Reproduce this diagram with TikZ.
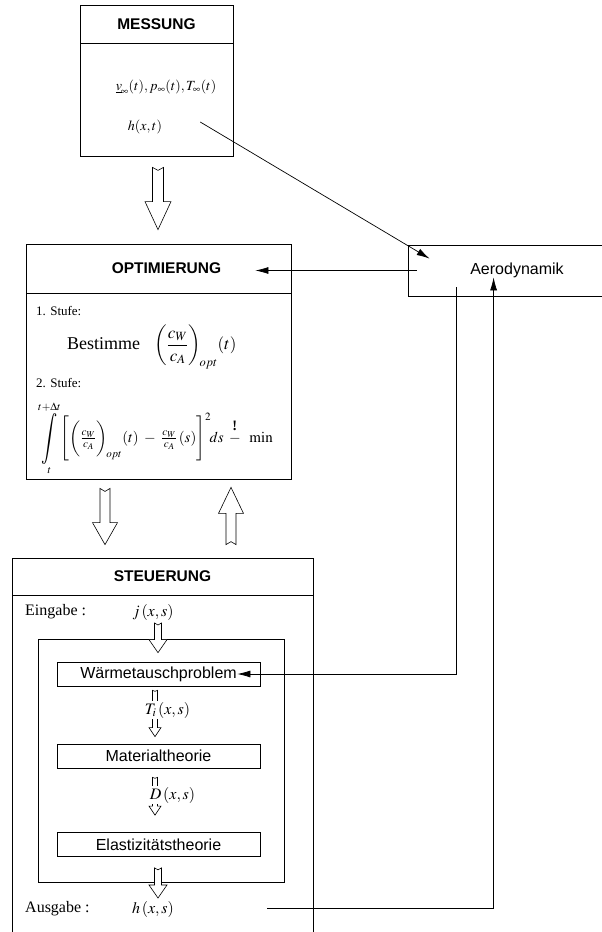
\documentclass[tikz,border=0pt]{standalone}
\usepackage{amsmath}
\usepackage{graphicx}
\usepackage{mathptmx}
\usepackage{fontspec}
\setmainfont{Liberation Serif}
\setsansfont{Liberation Sans}
\usetikzlibrary{arrows.meta,calc}
\tikzset{>={Latex[width=7pt,length=13pt]}}
\newcommand\Bint{\mathop{\vcenter{\hbox{\scalebox{1.2}[1.7]{$\displaystyle\int$}}}}\limits}

\begin{document}
\begin{tikzpicture}[x=1pt,y=-1pt,
  box/.style={draw,line width=0.8pt,inner sep=0pt},
  ttl/.style={box,font=\fontsize{15.5}{18}\sffamily\bfseries},
  proc/.style={draw,line width=0.7pt,minimum width=203pt,minimum height=24pt,inner sep=0pt,font=\fontsize{16}{19}\sffamily},
  txt/.style={inner sep=2pt,font=\fontsize{16}{19}\selectfont},
  stufe/.style={inner sep=1pt,font=\fontsize{13}{15}\selectfont},
  fatarr/.style={draw,fill=white,line width=0.6pt,line join=miter},
  conn/.style={line width=0.7pt}]

  % hollow arrow: from, to, shaft half width, head half width, head length, notch
  \newcommand\fatarrow[6]{%
    \path[fatarr] let \p1=(#1), \p2=(#2), \n1={sign(\y1-\y2)} in
      (\x1-#3,\y1) -- (\x1,\y1-\n1*#6) -- (\x1+#3,\y1) -- (\x1+#3,\y2+\n1*#5)
      -- (\x1+#4,\y2+\n1*#5) -- (\x1,\y2) -- (\x1-#4,\y2+\n1*#5)
      -- (\x1-#3,\y2+\n1*#5) -- cycle;}

  \useasboundingbox (0,0) rectangle (602,932);
  \clip (0,0) rectangle (602,932);

  %% MESSUNG
  \node[box,minimum width=153pt,minimum height=151pt] (mess) at (156.5,80.5) {};
  \node[ttl,minimum width=153pt,minimum height=38pt,anchor=north] (messT) at (mess.north) {MESSUNG};
  \node[txt,font=\fontsize{14}{17}\selectfont] (vpt) at (166,87) {$\underline{v}_{\!\infty}(t),p_\infty(t),T_\infty(t)$};
  \node[txt,font=\fontsize{14}{17}\selectfont] (hxt) at (145,127) {$h(x,t)$};

  %% OPTIMIERUNG
  \node[box,minimum width=265pt,minimum height=235pt] (opt) at (158.5,361.5) {};
  \node[ttl,minimum width=265pt,minimum height=49pt,anchor=north] (optT) at (opt.north) {\hspace*{16pt}OPTIMIERUNG};
  \node[stufe,anchor=west] (st1) at (35,311) {1. Stufe:};
  \node[anchor=west,inner sep=0pt] (best) at (67,347)
    {{\fontsize{18}{21}\selectfont Bestimme}\hspace{14pt}{\fontsize{17}{20}\selectfont
     $\left(\dfrac{c_W}{c_A}\right)_{\!opt}\!(t)$}};
  \node[stufe,anchor=west] (st2) at (35,383) {2. Stufe:};
  \node[anchor=west,inner sep=0pt,font=\fontsize{15}{18}\selectfont] (integ) at (38,438)
    {$\Bint_{t}^{t+\Delta t}\Biggl[\left(\tfrac{c_W}{c_A}\vphantom{\dfrac{c_W}{c_A}}\right)_{\!opt}\!(t)\;-\;\tfrac{c_W}{c_A}\,(s)\Biggr]^2\!ds
     \;\overset{\text{\Large\bfseries !}}{-}\;\;\mathrm{min}$};

  %% Aerodynamik
  \node[box,minimum width=218pt,minimum height=51pt,font=\fontsize{16}{19}\sffamily] (aero) at (517,270.5) {Aerodynamik};

  %% STEUERUNG
  \node[box,minimum width=301pt,minimum height=387pt] (steu) at (162.5,751.5) {};
  \node[ttl,minimum width=301pt,minimum height=37pt,anchor=north] (steuT) at (steu.north) {STEUERUNG};
  \node[txt,anchor=west] (ein) at (23,612) {Eingabe :};
  \node[txt] (jxs) at (153,612) {$j\,(x,s)$};
  \node[box,minimum width=246pt,minimum height=243pt] (regel) at (161,760.5) {};
  \node[proc] (waerme) at (158.5,674) {Wärmetauschproblem};
  \node[proc] (matt) at (158.5,756) {Materialtheorie};
  \node[proc] (elast) at (158.5,844.5) {Elastizitätstheorie};
  \node[txt,anchor=west] (aus) at (23,909) {Ausgabe :};
  \node[txt] (hxs) at (153,909) {$h\,(x,s)$};

  %% hollow arrows
  \fatarrow{$(mess.south)+(1.5,11)$}{$(opt.north)+(0,-14)$}{5.5pt}{13pt}{28pt}{3pt}
  \fatarrow{$(opt.south)+(-53.5,9)$}{$(steu.north)+(-57.5,-13)$}{5pt}{12.5pt}{22pt}{3pt}
  \fatarrow{$(steu.north)+(68.5,-13)$}{$(opt.south)+(72.5,8)$}{5pt}{12.5pt}{26pt}{3pt}
  \fatarrow{$(jxs.center)+(5,11)$}{$(waerme.north)+(0,-9)$}{3.5pt}{9pt}{13pt}{2pt}
  \fatarrow{$(waerme.south)+(-3.5,4)$}{$(matt.north)+(0,-7)$}{2.5pt}{6pt}{9pt}{1pt}
  \fatarrow{$(matt.south)+(-3.5,9)$}{$(elast.north)+(0,-17)$}{2.5pt}{6pt}{9pt}{1pt}
  \fatarrow{$(elast.south)+(-0.5,11)$}{$(hxs.center)+(0,-11)$}{3.5pt}{9pt}{13pt}{2pt}

  \node[txt,fill=white,inner sep=1pt] (ti) at (167.5,710) {$T_i\,(x,s)$};
  \node[txt,fill=white,inner sep=1pt] (dxs) at (172.5,795) {$D\,(x,s)$};

  %% connectors
  \draw[conn,->] ($(hxt.east)+(36,-5)$) -- ($(aero.north west)+(22,14)$); % h -> Aero
  \draw[conn,->] ($(aero.west)+(9,0)$) -- ($(aero.west -| optT.east)+(-36,0)$); % Aero -> Opt
  \draw[conn,->] ($(aero.south west)+(49,-9)$) |- ($(waerme.east)+(-23,0)$); % Aero -> Waerme
  \draw[conn,->] ($(hxs.east)+(91,-1)$) -| ($(aero.south west)+(86,-19)$); % h -> Aero
\end{tikzpicture}
\end{document}
